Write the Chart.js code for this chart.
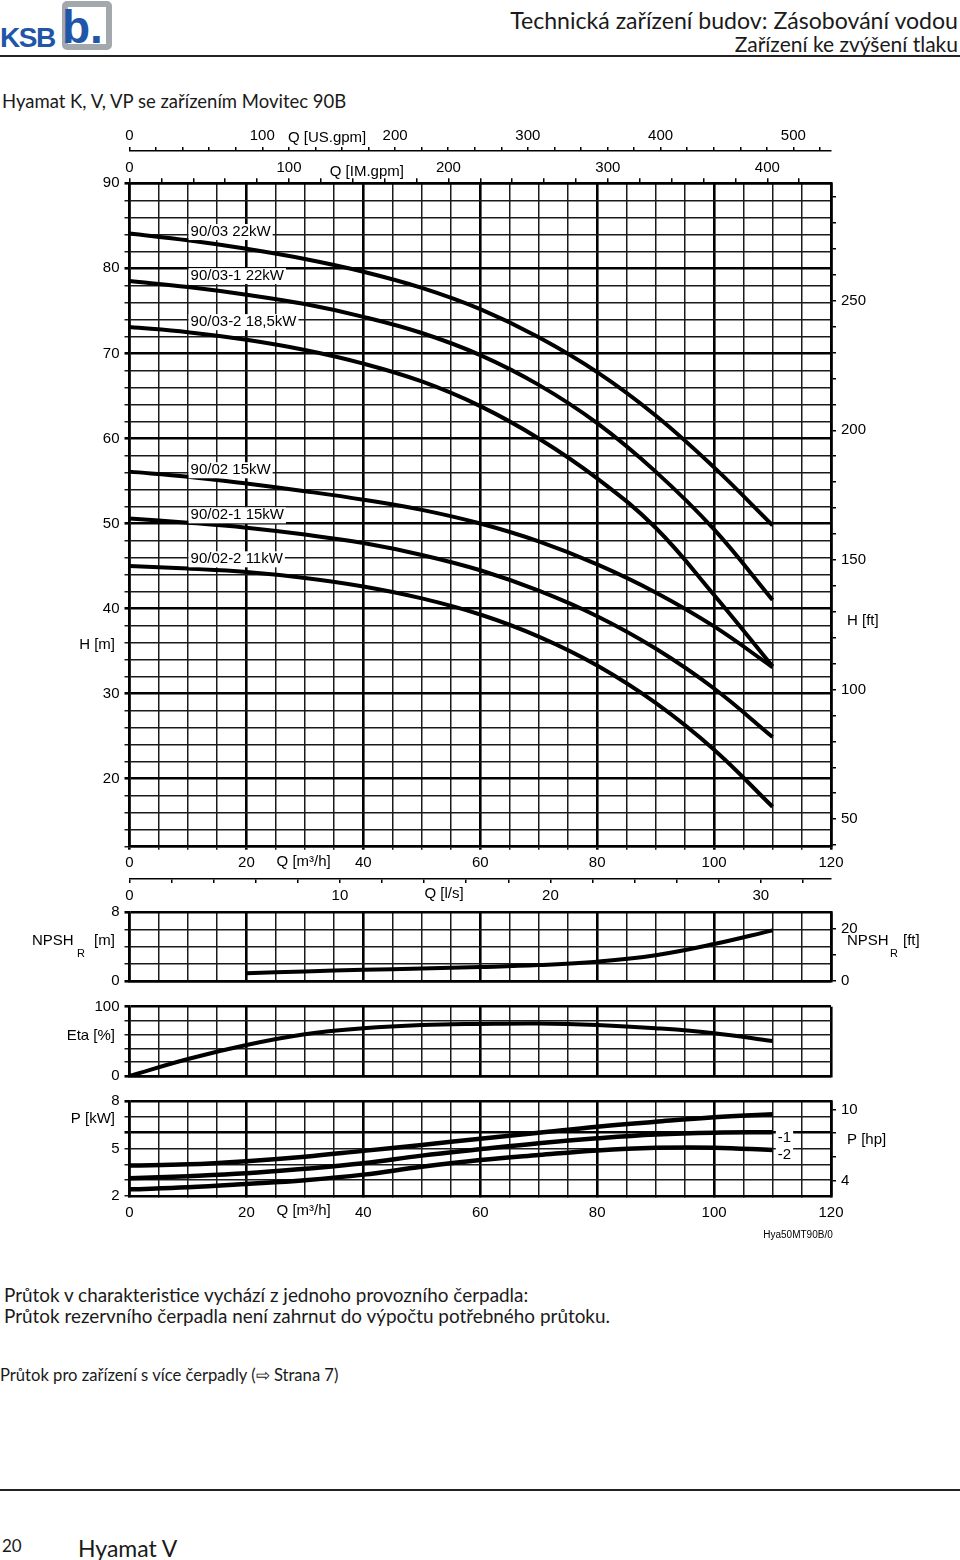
<!DOCTYPE html>
<html lang="cs">
<head>
<meta charset="utf-8">
<title>Hyamat K, V, VP se zařízením Movitec 90B</title>
<script src="https://cdn.jsdelivr.net/npm/chart.js@4.4.1/dist/chart.umd.min.js"></script>
<style>
  html, body { margin: 0; padding: 0; background: #fff; }
  body { position: relative; width: 960px; height: 1560px; overflow: hidden; font-family: Lato, "Noto Sans", sans-serif; color: #1a1a1a; }
  .t { position: absolute; white-space: nowrap; }
  .rule { position: absolute; left: 0; width: 960px; height: 2px; background: #222; }
  canvas { position: absolute; left: 0; }
  .ksb { position: absolute; left: 0; top: 22px; font: bold 28px "Liberation Sans", Arial, sans-serif; color: #1f56a8; letter-spacing: -1.5px; }
  .frame { position: absolute; left: 62px; top: 1px; width: 38px; height: 37px; border: 6px solid #a3a8ad; border-radius: 5px; }
  .bee { position: absolute; left: 62px; top: 4px; font: bold 46px "Liberation Sans", Arial, sans-serif; color: #1f56a8; line-height: 46px; }
</style>
</head>
<body>
  <div class="frame"></div>
  <div class="bee">b.</div>
  <div class="ksb">KSB</div>

  <div class="t" style="right:2px;top:7px;font-size:23.1px;line-height:26px;">Technická zařízení budov: Zásobování vodou</div>
  <div class="t" style="right:2px;top:32px;font-size:21px;line-height:24px;">Zařízení ke zvýšení tlaku</div>
  <div class="rule" style="top:55px"></div>
  <div class="t" style="left:2px;top:89px;font-size:18.5px;line-height:24px;">Hyamat K, V, VP se zařízením Movitec 90B</div>

  <canvas id="headChart" width="960" height="790" style="top:120px"></canvas>
  <canvas id="npshChart" width="960" height="115" style="top:885px"></canvas>
  <canvas id="etaChart" width="960" height="100" style="top:990px"></canvas>
  <canvas id="powerChart" width="960" height="175" style="top:1080px"></canvas>

  <div class="t" style="left:4px;top:1283px;font-size:18.9px;line-height:24px;">Průtok v charakteristice vychází z jednoho provozního čerpadla:</div>
  <div class="t" style="left:4px;top:1304px;font-size:18.9px;line-height:24px;">Průtok rezervního čerpadla není zahrnut do výpočtu potřebného průtoku.</div>
  <div class="t" style="left:0;top:1364px;font-size:16.6px;line-height:22px;">Průtok pro zařízení s více čerpadly (⇨ Strana 7)</div>
  <div class="rule" style="top:1489px"></div>
  <div class="t" style="left:2px;top:1534px;font-size:17px;line-height:24px;">20</div>
  <div class="t" style="left:78px;top:1534px;font-size:23px;line-height:28px;">Hyamat V</div>

<script>
// flow points shared by the head, eta and power curves [m3/h]
const flowQ = [0, 10, 20, 30, 40, 50, 60, 70, 80, 90, 100, 110];

// head curves H [m]
const head_90_03   = [84.1, 83.3, 82.3, 81.1, 79.6, 77.7, 75.2, 71.9, 67.8, 62.7, 56.6, 49.8];
const head_90_03_1 = [78.5, 77.8, 76.9, 75.8, 74.3, 72.4, 69.8, 66.3, 61.8, 56.1, 49.3, 41.0];
const head_90_03_2 = [73.1, 72.5, 71.6, 70.4, 68.8, 66.7, 63.8, 60.0, 55.3, 49.5, 41.6, 33.2];
const head_90_02   = [56.1, 55.5, 54.7, 53.8, 52.8, 51.6, 50.0, 47.9, 45.2, 41.9, 37.9, 33.1];
const head_90_02_1 = [50.6, 50.1, 49.5, 48.7, 47.7, 46.3, 44.5, 42.1, 39.1, 35.3, 30.6, 24.9];
const head_90_02_2 = [45.0, 44.7, 44.3, 43.6, 42.6, 41.2, 39.3, 36.7, 33.3, 28.9, 23.4, 16.7];
const headNames = ['90/03 22kW', '90/03-1 22kW', '90/03-2 18,5kW', '90/02 15kW', '90/02-1 15kW', '90/02-2 11kW'];

// NPSH_R [m] (starts at 20 m3/h)
const npshQ = [20, 30, 40, 50, 60, 70, 80, 90, 100, 110];
const npshR = [0.9, 1.12, 1.3, 1.45, 1.62, 1.85, 2.25, 3.0, 4.3, 5.9];

// efficiency [%]
const eta = [0, 24.5, 44.7, 60.2, 68.8, 73.6, 75.2, 75.8, 73.6, 68.9, 61.8, 50.5];

// power P [kW]
const power    = [3.92, 4.0, 4.2, 4.48, 4.85, 5.22, 5.62, 6.0, 6.38, 6.69, 6.97, 7.16];
const power_1  = [3.12, 3.25, 3.43, 3.72, 4.07, 4.55, 4.95, 5.33, 5.64, 5.88, 6.0, 6.03];
const power_2  = [2.42, 2.55, 2.76, 3.0, 3.35, 3.85, 4.27, 4.59, 4.88, 5.04, 5.05, 4.9];

// tick labels
const qLabels = [0, 20, 40, 60, 80, 100, 120];
const hLabels = [20, 30, 40, 50, 60, 70, 80, 90];
const hFtLabels = [50, 100, 150, 200, 250];
const usLabels = [0, 100, 200, 300, 400, 500];
const imLabels = [0, 100, 200, 300, 400];
const lpsLabels = [0, 10, 20, 30];
const npshLabels = [0, 8];
const npshFtLabels = [0, 20];
const etaLabels = [0, 100];
const pLabels = [2, 5, 8];
const hpLabels = [4, 10];

// unit conversions to m3/h, m, kW
const FT = 0.3048, US_GPM = 0.2271247, IM_GPM = 0.2727654, LPS = 3.6, HP = 0.7457;

Chart.defaults.font.family = '"Liberation Sans", Arial, sans-serif';
Chart.defaults.font.size = 15;
Chart.defaults.color = '#000';
Chart.defaults.animation = false;

function steps(from, to, step) {
  const out = [];
  for (let i = 0; from + i * step <= to + 1e-9; i++) out.push(+(from + i * step).toFixed(6));
  return out;
}
const isMajor = (c, every) => c.tick && Math.abs(c.tick.value / every - Math.round(c.tick.value / every)) < 1e-6;
const show = list => v => list.includes(+(+v).toFixed(3)) ? String(v) : '';

function curve(xs, ys, width) {
  return {
    data: xs.map((q, i) => ({ x: q, y: ys[i] })),
    borderColor: '#000', borderWidth: width || 4, pointRadius: 0,
    tension: 0.4, fill: false, borderCapStyle: 'butt',
    xAxisID: 'x', yAxisID: 'y'
  };
}

// flow axis with the 5 m3/h grid used by every panel
function flowAxis(labelsOn, height, pad, tick) {
  return {
    type: 'linear', position: 'bottom', min: 0, max: 120, weight: 0,
    afterBuildTicks: s => { s.ticks = steps(0, 120, 5).map(v => ({ value: v })); },
    ticks: { display: labelsOn, callback: show(qLabels), padding: pad, autoSkip: false, maxRotation: 0 },
    grid: { color: c => isMajor(c, 20) ? '#000' : '#1a1a1a', lineWidth: c => isMajor(c, 20) ? 2.6 : 1.5,
            tickLength: tick, drawTicks: tick > 0 },
    border: { color: '#000', width: 2.6 },
    afterFit: s => { s.height = height; }
  };
}

function valueAxis(min, max, step, labels, majorEvery) {
  return {
    type: 'linear', position: 'left', min, max,
    afterBuildTicks: s => { s.ticks = steps(min, max, step).map(v => ({ value: v })); },
    ticks: { callback: show(labels), padding: 5, autoSkip: false },
    grid: { color: c => (isMajor(c, majorEvery) || c.tick.value === max) ? '#000' : '#1a1a1a',
            lineWidth: c => (isMajor(c, majorEvery) || c.tick.value === max) ? 2.6 : 1.5, tickLength: 5 },
    border: { color: '#000', width: 2.6 },
    afterFit: s => { s.width = 129.5; }
  };
}

function sideAxis(pos, min, max, tickVals, labels, size, tick, pad) {
  return {
    type: 'linear', position: pos, min, max,
    afterBuildTicks: s => { s.ticks = tickVals.map(v => ({ value: v })); },
    ticks: { callback: show(labels), padding: pad, autoSkip: false, maxRotation: 0 },
    grid: { drawOnChartArea: false, color: '#000', lineWidth: 1.5, tickLength: tick },
    border: { color: '#000', width: pos === 'right' ? 2.6 : 1.5 },
    afterFit: s => { if (pos === 'left' || pos === 'right') s.width = size; else s.height = size; }
  };
}

// free text placed in data coordinates of the panel's x / y scales
function notes(items) {
  return {
    id: 'notes',
    afterDatasetsDraw(chart) {
      const ctx = chart.ctx, xs = chart.scales.x, ys = chart.scales.y;
      ctx.save();
      items.forEach(n => {
        const px = xs.getPixelForValue(n.x) + (n.dx || 0);
        const py = ys.getPixelForValue(n.y) + (n.dy || 0);
        ctx.font = (n.size || 15) + 'px "Liberation Sans", Arial, sans-serif';
        ctx.textAlign = n.align || 'left';
        ctx.textBaseline = 'middle';
        if (n.box) {
          const w = ctx.measureText(n.text).width;
          const left = n.align === 'center' ? px - w / 2 : n.align === 'right' ? px - w : px;
          ctx.fillStyle = '#fff';
          ctx.fillRect(left - 2, py - 8, w + 4, 16);
        }
        ctx.fillStyle = '#000';
        ctx.fillText(n.text, px, py);
      });
      ctx.restore();
    }
  };
}

const common = { responsive: false, events: [], plugins: { legend: { display: false }, tooltip: { enabled: false } } };

// ---- H(Q) ----
const headSets = [head_90_03, head_90_03_1, head_90_03_2, head_90_02, head_90_02_1, head_90_02_2];
const headLabelY = [84.27, 79.09, 73.68, 56.26, 50.96, 45.79];
new Chart(document.getElementById('headChart'), {
  type: 'line',
  data: { datasets: headSets.map(h => curve(flowQ, h)) },
  options: Object.assign({}, common, {
    layout: { padding: { top: 0, bottom: 1, left: 0, right: 0 } },
    scales: {
      x: flowAxis(true, 32.3, 4, 3),
      xLps: Object.assign(sideAxis('bottom', 0, 120 / LPS, steps(0, 32, 2), lpsLabels, 30, 4, 4), { weight: 1 }),
      xIm: Object.assign(sideAxis('top', 0, 120 / IM_GPM, steps(0, 420, 20), imLabels, 32.3, 5, 1), { weight: 0 }),
      xUs: Object.assign(sideAxis('top', 0, 120 / US_GPM, steps(0, 520, 20), usLabels, 31, 4, 2), { weight: 1 }),
      y: valueAxis(12, 90, 2, hLabels, 10),
      yFt: sideAxis('right', 12 / FT, 90 / FT, steps(40, 290, 10), hFtLabels, 129, 5, 5)
    }
  }),
  plugins: [notes([
    { text: 'Q [US.gpm]', x: 33.8, y: 95.33, align: 'center' },
    { text: 'Q [IM.gpm]', x: 40.6, y: 91.39, align: 'center' },
    { text: 'Q [m³/h]', x: 29.8, y: 10.27, align: 'center' },
    { text: 'Q [l/s]', x: 53.8, y: 6.51, align: 'center' },
    { text: 'H [m]', x: 0, dx: -14.5, y: 35.7, align: 'right' },
    { text: 'H [ft]', x: 120, dx: 16, y: 38.6 }
  ].concat(headNames.map((t, i) => ({ text: t, x: 10.45, y: headLabelY[i], box: true }))))]
});

// ---- NPSH_R ----
new Chart(document.getElementById('npshChart'), {
  type: 'line',
  data: { datasets: [curve(npshQ, npshR)] },
  options: Object.assign({}, common, {
    layout: { padding: { top: 27.3, bottom: 0, left: 0, right: 0 } },
    scales: {
      x: flowAxis(false, 19, 0, 0),
      y: valueAxis(0, 8, 2, npshLabels, 8),
      yFt: sideAxis('right', 0, 8 / FT, [0, 10, 20], npshFtLabels, 129, 5, 5)
    }
  }),
  plugins: [notes([
    { text: 'NPSH', x: 0, dx: -97.5, y: 4.66 },
    { text: 'R', x: 0, dx: -52.5, y: 3.14, size: 11 },
    { text: '[m]', x: 0, dx: -35.5, y: 4.66 },
    { text: 'NPSH', x: 120, dx: 16, y: 4.66 },
    { text: 'R', x: 120, dx: 59, y: 3.14, size: 11 },
    { text: '[ft]', x: 120, dx: 72, y: 4.66 }
  ])]
});

// ---- Eta ----
new Chart(document.getElementById('etaChart'), {
  type: 'line',
  data: { datasets: [curve(flowQ, eta)] },
  options: Object.assign({}, common, {
    layout: { padding: { top: 16.7, bottom: 0, left: 0, right: 129 } },
    scales: {
      x: flowAxis(false, 14, 0, 0),
      y: valueAxis(0, 100, 20, etaLabels, 100)
    }
  }),
  plugins: [notes([
    { text: 'Eta [%]', x: 0, dx: -14.5, y: 57.7, align: 'right' }
  ])]
});

// ---- P ----
new Chart(document.getElementById('powerChart'), {
  type: 'line',
  data: { datasets: [curve(flowQ, power, 4.5), curve(flowQ, power_1, 4.5), curve(flowQ, power_2, 4.5)] },
  options: Object.assign({}, common, {
    layout: { padding: { top: 21, bottom: 0, left: 0, right: 0 } },
    scales: {
      x: flowAxis(true, 59, 6, 2),
      y: valueAxis(2, 8, 1, pLabels, 6),
      yHp: sideAxis('right', 2 / HP, 8 / HP, [4, 6, 8, 10], hpLabels, 129, 5, 5)
    }
  }),
  plugins: [notes([
    { text: 'P [kW]', x: 0, dx: -14.5, y: 6.86, align: 'right' },
    { text: 'P [hp]', x: 120, dx: 16, y: 5.54 },
    { text: 'Q [m³/h]', x: 29.8, y: 1.05, align: 'center' },
    { text: '-1', x: 110.9, y: 5.66, box: true },
    { text: '-2', x: 110.9, y: 4.59, box: true },
    { text: 'Hya50MT90B/0', x: 120.3, y: -0.46, align: 'right', size: 10 }
  ])]
});
</script>
</body>
</html>
